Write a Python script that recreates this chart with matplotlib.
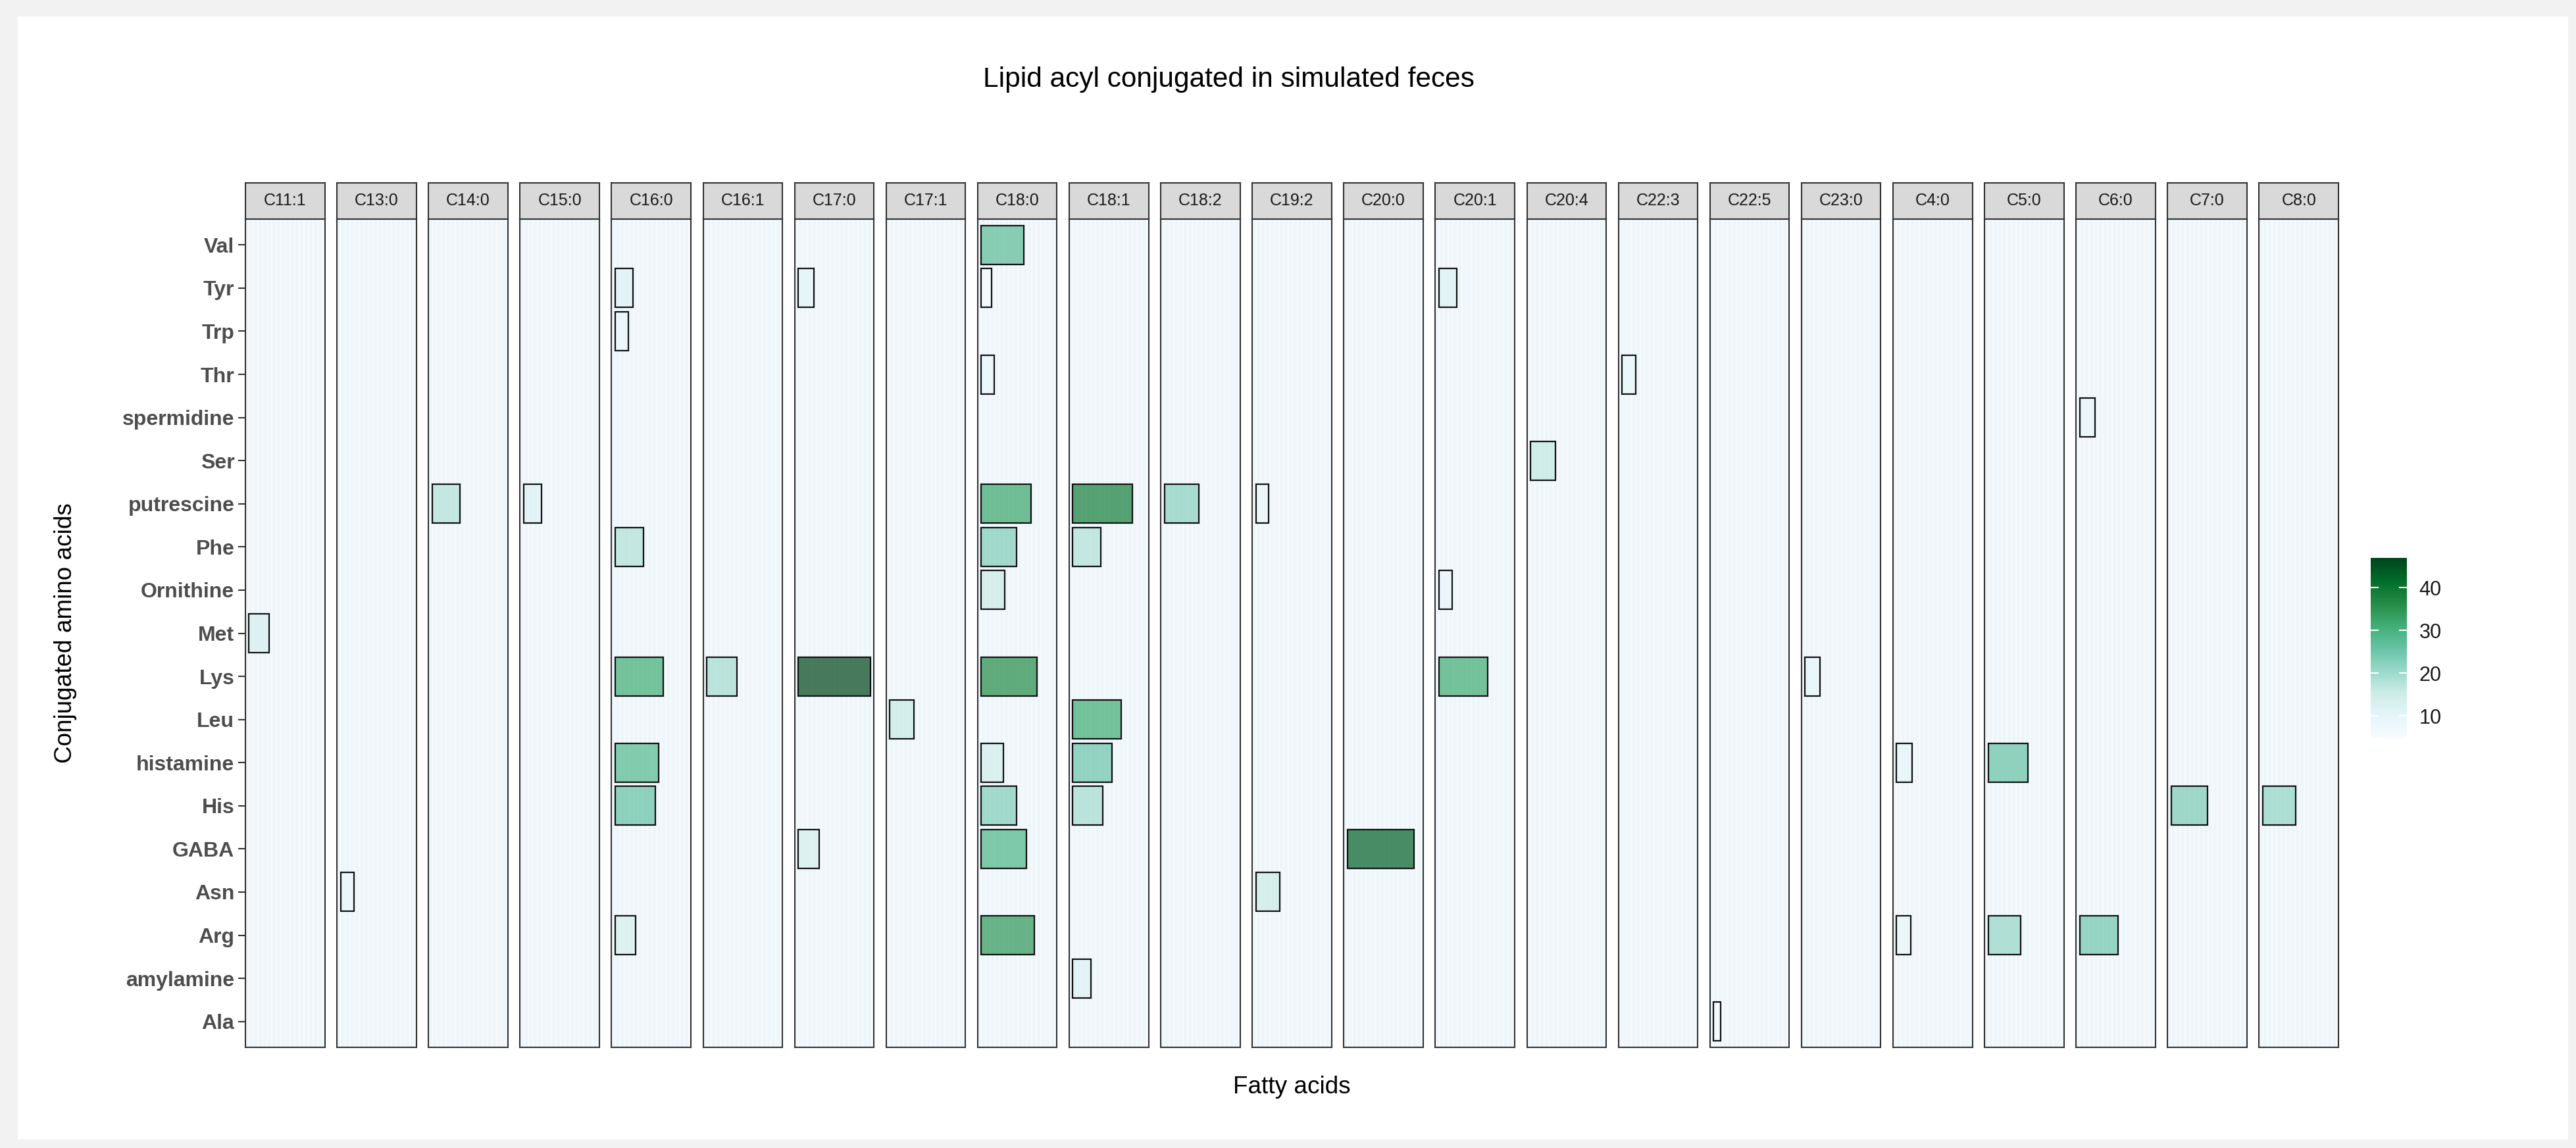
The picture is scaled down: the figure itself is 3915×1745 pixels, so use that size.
"""Faceted bar chart: lipid acyl conjugates in simulated feces."""
import matplotlib
matplotlib.use("Agg")
import matplotlib.pyplot as plt
from matplotlib.patches import Rectangle
from matplotlib.ticker import MultipleLocator
from matplotlib.colors import Normalize
from matplotlib.cm import ScalarMappable

plt.rcParams["font.family"] = ["Liberation Sans", "DejaVu Sans"]

fatty_acids = ["C11:1", "C13:0", "C14:0", "C15:0", "C16:0", "C16:1", "C17:0", "C17:1",
               "C18:0", "C18:1", "C18:2", "C19:2", "C20:0", "C20:1", "C20:4", "C22:3",
               "C22:5", "C23:0", "C4:0", "C5:0", "C6:0", "C7:0", "C8:0"]

# bottom to top
amino_acids = ["Ala", "amylamine", "Arg", "Asn", "GABA", "His", "histamine", "Leu", "Lys",
               "Met", "Ornithine", "Phe", "putrescine", "Ser", "spermidine", "Thr", "Trp",
               "Tyr", "Val"]

bar_fa = ["C11:1", "C13:0", "C14:0", "C15:0",
          "C16:0", "C16:0", "C16:0", "C16:0", "C16:0", "C16:0", "C16:0",
          "C16:1", "C17:0", "C17:0", "C17:0", "C17:1",
          "C18:0", "C18:0", "C18:0", "C18:0", "C18:0", "C18:0", "C18:0", "C18:0", "C18:0",
          "C18:0", "C18:0",
          "C18:1", "C18:1", "C18:1", "C18:1", "C18:1", "C18:1",
          "C18:2", "C19:2", "C19:2", "C20:0", "C20:1", "C20:1", "C20:1",
          "C20:4", "C22:3", "C22:5", "C23:0", "C4:0", "C4:0", "C5:0", "C5:0",
          "C6:0", "C6:0", "C7:0", "C8:0"]
bar_aa = ["Met", "Asn", "putrescine", "putrescine",
          "Tyr", "Trp", "Phe", "Lys", "histamine", "His", "Arg",
          "Lys", "Tyr", "Lys", "GABA", "Leu",
          "Val", "Tyr", "Thr", "putrescine", "Phe", "Ornithine", "Lys", "histamine", "His",
          "GABA", "Arg",
          "putrescine", "Phe", "Leu", "histamine", "His", "amylamine",
          "putrescine", "putrescine", "Asn", "GABA", "Tyr", "Ornithine", "Lys",
          "Ser", "Thr", "Ala", "Lys", "histamine", "Arg", "histamine", "Arg",
          "spermidine", "Arg", "His", "His"]
bar_value = [13.0, 8.9, 18.0, 11.7,
             11.4, 8.4, 18.4, 31.3, 28.3, 26.2, 13.5,
             19.5, 10.3, 47.0, 13.5, 15.7,
             27.5, 6.5, 8.4, 32.4, 23.2, 15.4, 36.4, 14.3, 23.2,
             29.4, 34.5,
             38.6, 18.4, 31.6, 25.4, 19.5, 11.7,
             22.4, 8.4, 15.4, 43.4, 11.7, 8.7, 31.6,
             16.2, 9.1, 4.8, 9.9, 9.9, 9.1, 26.0, 21.0,
             9.9, 24.9, 23.7, 21.4]

W, H = 3916, 1745
fig = plt.figure(figsize=(W / 100, H / 100), dpi=100, facecolor="#f2f2f2")


def box(x0, y0, x1, y1):
    """pixel box (top-left origin) -> figure fraction rect"""
    return [x0 / W, 1 - y1 / H, (x1 - x0) / W, (y1 - y0) / H]


# white plot card on grey screenshot background
fig.patches.append(Rectangle((27 / W, 1 - 1732 / H), (3903 - 27) / W, (1732 - 25) / H,
                             transform=fig.transFigure, facecolor="white",
                             edgecolor="none", zorder=-10))

cmap = plt.get_cmap("BuGn")
norm = Normalize(vmin=min(bar_value), vmax=max(bar_value))
vmax = max(bar_value)

panel_left, panel_right = 373, 3554
panel_top, panel_bottom = 333, 1592
strip_top = 278
gap = 18.5
n = len(fatty_acids)
pw = (panel_right - panel_left - gap * (n - 1)) / n

for i, fa in enumerate(fatty_acids):
    x0 = panel_left + i * (pw + gap)
    ax = fig.add_axes(box(x0, panel_top, x0 + pw, panel_bottom))
    ax.set_facecolor("#eef6fa")
    ax.set_xlim(-0.05 * vmax, 1.05 * vmax)
    ax.set_ylim(-0.6, len(amino_acids) - 0.4)
    ax.xaxis.set_major_locator(MultipleLocator(3))
    ax.grid(axis="x", color="#f8fcfe", lw=1.2, zorder=0)
    ax.set_axisbelow(True)
    ax.tick_params(axis="x", length=0, labelbottom=False)

    for f, a, v in zip(bar_fa, bar_aa, bar_value):
        if f != fa:
            continue
        r, g, b, _ = cmap(norm(v))
        ax.barh(amino_acids.index(a), v, height=0.9, left=0,
                facecolor=(r, g, b, 0.7), edgecolor="#111111", linewidth=1.6, zorder=3)

    for s in ax.spines.values():
        s.set_color("#333333")
        s.set_linewidth(1.5)

    if i == 0:
        ax.set_yticks(range(len(amino_acids)))
        ax.set_yticklabels(amino_acids, fontsize=23, fontweight="bold", color="#4d4d4d")
        ax.tick_params(axis="y", length=8, width=1.5, color="#333333", pad=4)
    else:
        ax.set_yticks([])

    # facet strip
    sx = fig.add_axes(box(x0, strip_top, x0 + pw, panel_top))
    sx.set_facecolor("#d9d9d9")
    sx.set_xticks([])
    sx.set_yticks([])
    for s in sx.spines.values():
        s.set_color("#333333")
        s.set_linewidth(1.5)
    sx.text(0.5, 0.5, fa, ha="center", va="center", fontsize=18, color="#1a1a1a",
            transform=sx.transAxes)

# colour bar legend
cax = fig.add_axes(box(3603, 848, 3658, 1122))
cb = fig.colorbar(ScalarMappable(norm=norm, cmap=cmap), cax=cax)
cb.outline.set_visible(False)
cb.set_ticks([10, 20, 30, 40])
cax.tick_params(length=0, pad=13.5, labelsize=22, labelcolor="#1a1a1a")
tr = cax.get_yaxis_transform()
for t in [10, 20, 30, 40]:
    cax.plot([0, 0.2], [t, t], color="white", lw=1.5, transform=tr)
    cax.plot([0.8, 1], [t, t], color="white", lw=1.5, transform=tr)

fig.text(1867 / W, 1 - 121 / H, "Lipid acyl conjugated in simulated feces",
         ha="center", va="center", fontsize=30.5, color="black")
fig.text((panel_left + panel_right) / 2 / W, 1 - 1653 / H, "Fatty acids",
         ha="center", va="center", fontsize=26.6, color="black")
fig.text(100 / W, 1 - (panel_top + panel_bottom) / 2 / H, "Conjugated amino acids",
         ha="center", va="center", rotation=90, fontsize=26.6, color="black")

fig.savefig("out.png", dpi=100, facecolor=fig.get_facecolor())
